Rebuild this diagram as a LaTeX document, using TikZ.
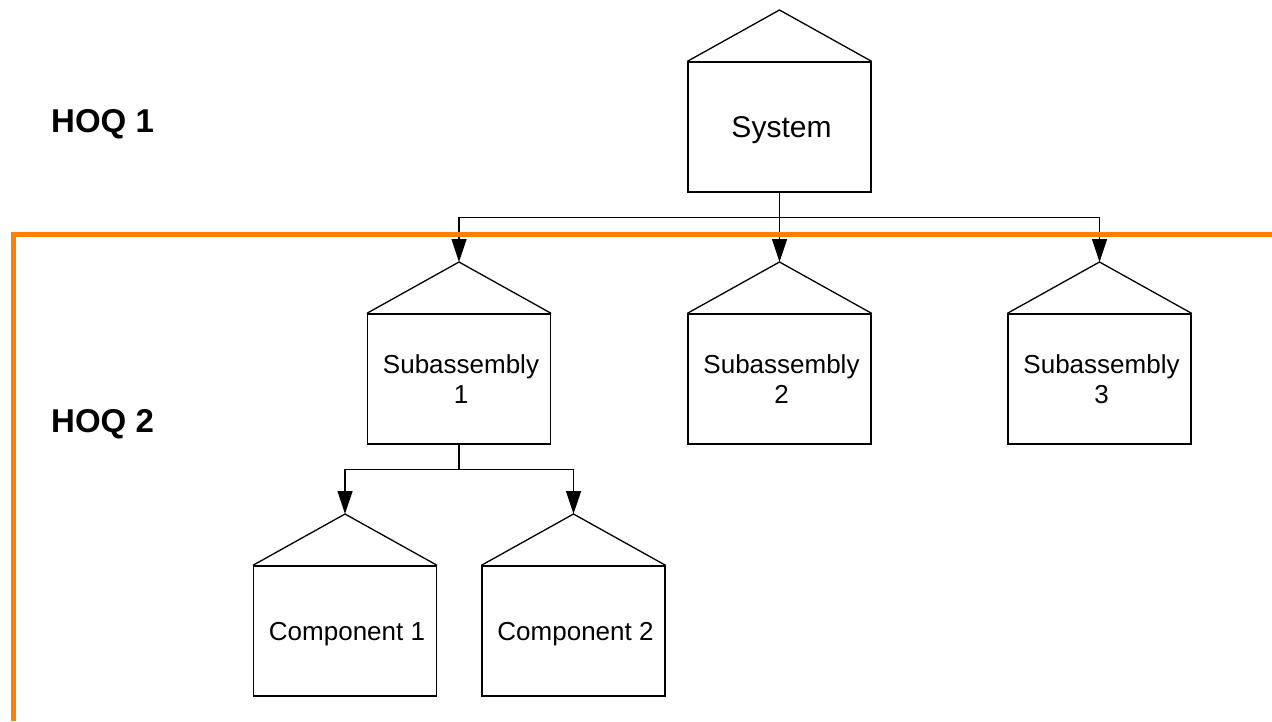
\documentclass[tikz,border=0pt]{standalone}
\usepackage{fontspec}
\setmainfont{Liberation Sans}
\usetikzlibrary{arrows.meta}
\definecolor{hoqorange}{RGB}{255,128,0}
\newcommand\househ[6]{% font, name, center x, center y, text shift, text
  \node[housebox] (#2) at (#3,#4) {};
  \node[housetext,font=#1] (#2text) at (#3+2,#4+#5) {#6};
  \coordinate (#2apex) at (#3,#4-117);
  \draw[houseline] (#2.north west) -- (#2apex) -- (#2.north east);
}
\newcommand\fsmall{\fontsize{26}{30}\selectfont}
\newcommand\fbig{\fontsize{30}{34}\selectfont}
\begin{document}
\begin{tikzpicture}[x=1pt,y=-1pt,
  houseline/.style={line width=1.3pt,line join=miter},
  housebox/.style={draw,line width=1.3pt,minimum width=183pt,minimum height=130pt,inner sep=0pt},
  housetext/.style={inner sep=0pt,align=center},
  conn/.style={line width=1.2pt},
  arr/.style={line width=1.2pt,-{Triangle[length=23pt,width=15pt]}},
  hoq/.style={font=\bfseries\fontsize{33}{36}\selectfont,anchor=base west,inner sep=0pt}]
\useasboundingbox (0,0) rectangle (1272,721);
\househ{\fbig}{sys}{779.5}{127}{3}{System}
\househ{\fsmall}{subA}{459}{379}{0}{Subassembly\\1}
\househ{\fsmall}{subB}{779.5}{379}{0}{Subassembly\\2}
\househ{\fsmall}{subC}{1099.5}{379}{0}{Subassembly\\3}
\househ{\fsmall}{compA}{345}{631}{3}{Component 1}
\househ{\fsmall}{compB}{573.5}{631}{3}{Component 2}
\node[hoq] (hoqA) at (51,132) {HOQ 1};
\node[hoq] (hoqB) at (51,432) {HOQ 2};
% connectors
\draw[conn] (sys.south) -- ++(0,25) coordinate (jA);
\draw[arr] (jA) -| (subAapex);
\draw[arr] (jA) -- (subBapex);
\draw[arr] (jA) -| (subCapex);
\draw[conn] (subA.south) -- ++(0,25) coordinate (jB);
\draw[arr] (jB) -| (compAapex);
\draw[arr] (jB) -| (compBapex);
% orange boundary
\coordinate (orR) at (1272,234.5);
\coordinate (orC) at (13,234.5);
\coordinate (orB) at (13,721);
\draw[hoqorange,line width=5pt,line join=miter] (orR) -- (orC) -- (orB);
\end{tikzpicture}
\end{document}
